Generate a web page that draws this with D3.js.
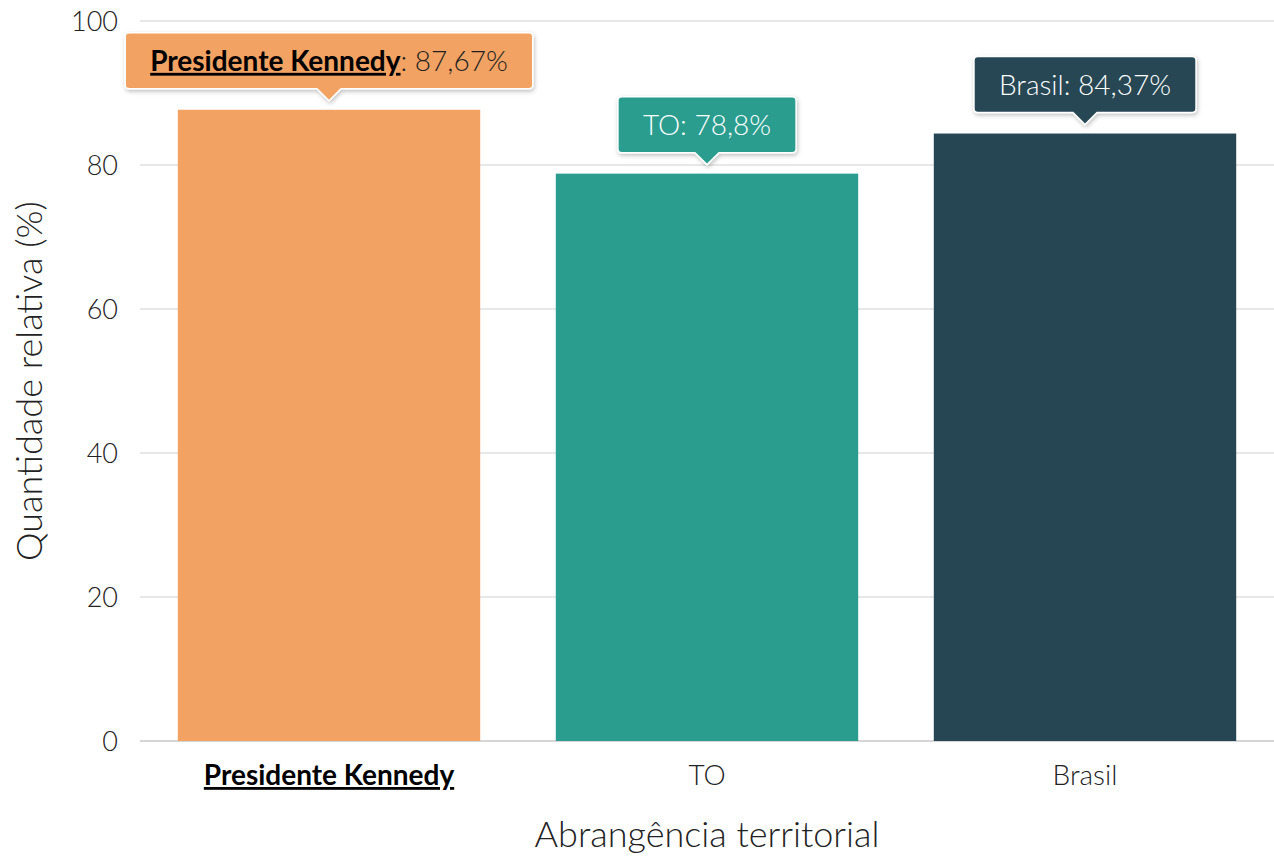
<!DOCTYPE html>
<html>
<head>
<meta charset="utf-8">
<script src="https://cdn.jsdelivr.net/npm/d3@7"></script>
<style>
  body { margin: 0; background: #fff; }
  text { font-family: Lato, "Open Sans", sans-serif; }
</style>
</head>
<body>
<div id="chart"></div>
<script>
// data
var categories = ["Presidente Kennedy", "TO", "Brasil"];
var values = [87.67, 78.8, 84.37];
var valueLabels = ["87,67%", "78,8%", "84,37%"];
var colors = ["#f2a262", "#2a9d8f", "#264653"];
var yTicks = [0, 20, 40, 60, 80, 100];
var highlight = "Presidente Kennedy";

var margin = {top: 21, right: 0, bottom: 115, left: 140},
    width = 1274 - margin.left - margin.right,
    height = 856 - margin.top - margin.bottom;

var svg = d3.select("#chart").append("svg")
    .attr("width", 1274)
    .attr("height", 856);

var defs = svg.append("defs");
var f = defs.append("filter").attr("id", "shadow")
    .attr("x", "-10%").attr("y", "-20%").attr("width", "120%").attr("height", "150%");
f.append("feDropShadow").attr("dx", 1).attr("dy", 2).attr("stdDeviation", 2)
    .attr("flood-color", "#000").attr("flood-opacity", 0.25);

var g = svg.append("g")
    .attr("transform", "translate(" + margin.left + "," + margin.top + ")");

var x = d3.scaleBand().domain(categories).range([0, width]).paddingInner(0.2).paddingOuter(0.1);
var y = d3.scaleLinear().domain([0, 100]).range([height, 0]);

// grid
g.selectAll(".grid")
    .data(yTicks)
  .enter().append("line")
    .attr("x1", 0).attr("x2", width)
    .attr("y1", function(d) { return y(d); })
    .attr("y2", function(d) { return y(d); })
    .attr("stroke", function(d) { return d === 0 ? "#c8c8c8" : "#e0e0e0"; })
    .attr("stroke-width", 1.5);

// y axis labels
g.selectAll(".ytick")
    .data(yTicks)
  .enter().append("text")
    .attr("x", -22)
    .attr("y", function(d) { return y(d); })
    .attr("dy", "0.36em")
    .attr("text-anchor", "end")
    .style("font-size", "27px")
    .style("font-weight", 300)
    .style("fill", "#222")
    .text(function(d) { return d; });

// bars
var data = categories.map(function(c, i) {
  return {cat: c, value: values[i], label: valueLabels[i], color: colors[i]};
});

g.selectAll(".bar")
    .data(data)
  .enter().append("rect")
    .attr("x", function(d) { return x(d.cat); })
    .attr("width", x.bandwidth())
    .attr("y", function(d) { return y(d.value); })
    .attr("height", function(d) { return height - y(d.value); })
    .attr("fill", function(d) { return d.color; });

// x labels
g.selectAll(".xlab")
    .data(data)
  .enter().append("text")
    .attr("x", function(d) { return x(d.cat) + x.bandwidth() / 2; })
    .attr("y", height + 44)
    .attr("text-anchor", "middle")
    .style("font-size", "28px")
    .style("font-weight", function(d) { return d.cat === highlight ? 700 : 300; })
    .style("text-decoration", function(d) { return d.cat === highlight ? "underline" : null; })
    .style("fill", function(d) { return d.cat === highlight ? "#000" : "#222"; })
    .text(function(d) { return d.cat; });

// axis titles
svg.append("text")
    .attr("x", margin.left + width / 2)
    .attr("y", 847)
    .attr("text-anchor", "middle")
    .style("font-size", "36px")
    .style("font-weight", 300)
    .style("fill", "#222")
    .text("Abrangência territorial");

svg.append("text")
    .attr("transform", "translate(42," + (margin.top + height / 2) + ") rotate(-90)")
    .attr("text-anchor", "middle")
    .style("font-size", "36px")
    .style("font-weight", 300)
    .style("fill", "#222")
    .text("Quantidade relativa (%)");

// tooltips
data.forEach(function(d) {
  var cx = x(d.cat) + x.bandwidth() / 2,
      tipY = y(d.value) - 9,
      boxH = 56, arrow = 12, padX = 25;
  var tg = g.append("g");
  var bg = tg.append("path");
  var txt = tg.append("text")
      .attr("y", tipY - arrow - boxH / 2)
      .attr("dy", "0.36em")
      .attr("text-anchor", "middle")
      .attr("x", cx)
      .style("font-size", "28px")
      .style("font-weight", 300)
      .style("fill", d.cat === highlight ? "#222" : "#fff");
  if (d.cat === highlight) {
    txt.append("tspan").style("font-weight", 700).style("fill", "#000")
       .style("text-decoration", "underline").text(d.cat);
    txt.append("tspan").text(": " + d.label);
  } else {
    txt.text(d.cat + ": " + d.label);
  }
  var w = txt.node().getComputedTextLength() + padX * 2;
  var x0 = cx - w / 2, x1 = cx + w / 2, yb = tipY - arrow, yt = yb - boxH, r = 4;
  var p = "M" + (x0 + r) + "," + yt +
    "L" + (x1 - r) + "," + yt + "Q" + x1 + "," + yt + " " + x1 + "," + (yt + r) +
    "L" + x1 + "," + (yb - r) + "Q" + x1 + "," + yb + " " + (x1 - r) + "," + yb +
    "L" + (cx + arrow) + "," + yb + "L" + cx + "," + tipY + "L" + (cx - arrow) + "," + yb +
    "L" + (x0 + r) + "," + yb + "Q" + x0 + "," + yb + " " + x0 + "," + (yb - r) +
    "L" + x0 + "," + (yt + r) + "Q" + x0 + "," + yt + " " + (x0 + r) + "," + yt + "Z";
  bg.attr("d", p)
    .attr("fill", d.color)
    .attr("stroke", "#fff")
    .attr("stroke-width", 1.5)
    .attr("filter", "url(#shadow)");
});
</script>
</body>
</html>
